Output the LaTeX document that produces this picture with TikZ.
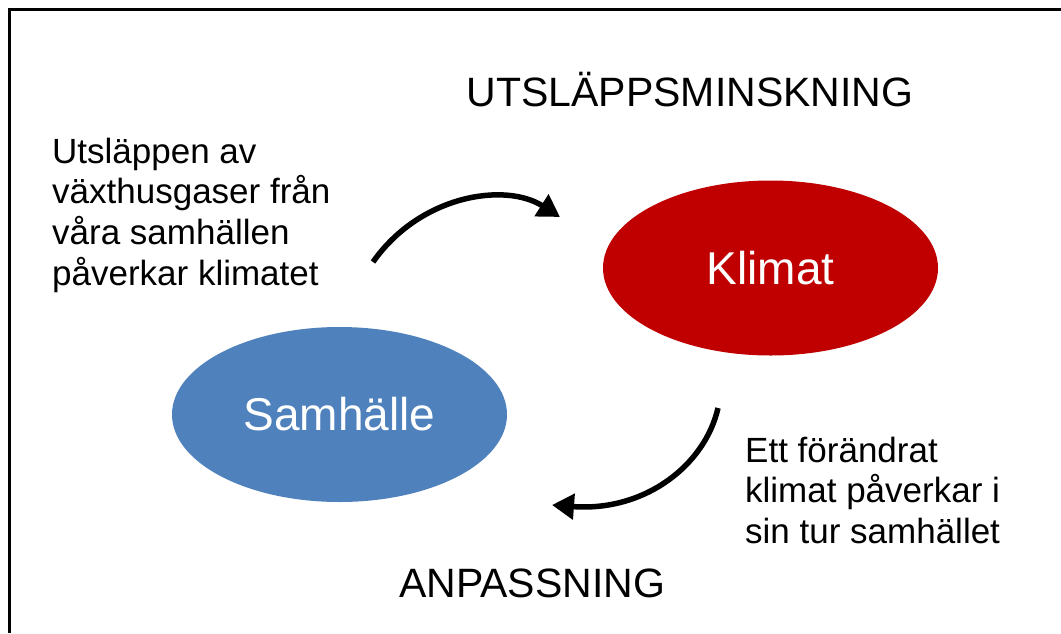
\documentclass[tikz,border=0pt]{standalone}
\usepackage{fontspec}
\setmainfont{Liberation Sans}
\usetikzlibrary{shapes.geometric,arrows.meta}
\definecolor{klimred}{HTML}{C00000}
\definecolor{samblue}{HTML}{4F81BD}
\begin{document}
\begin{tikzpicture}[x=1pt,y=-1pt,
  blob/.style={ellipse,minimum width=335pt,minimum height=175pt,inner sep=0pt,text=white,font=\fontsize{46}{50}\selectfont},
  caption/.style={inner sep=0pt,font=\fontsize{35}{40.7}\selectfont,anchor=base west},
  heading/.style={inner sep=0pt,font=\fontsize{41}{45}\selectfont,anchor=base},
  flow/.style={line width=5.5pt,-{Triangle[length=22pt,width=25pt]}}]
\useasboundingbox (0,0) rectangle (1061,633);
\fill[white] (0,0) rectangle (1061,633);
\draw[line width=3pt] (9,633) -- (9,9) -- (1061,9);
\node[blob,fill=klimred] (klimat) at (770.5,268) {Klimat};
\node[blob,fill=samblue] (samhalle) at (339.5,414.5) {Samhälle};
\node[heading] (utsl) at (690,106.7) {UTSLÄPPSMINSKNING};
\node[heading] (anp) at (532,597) {ANPASSNING};
\node[caption] (leftcap) at (52,163) {\begin{tabular}[t]{@{}l@{}}Utsläppen av\\växthusgaser från\\våra samhällen\\påverkar klimatet\end{tabular}};
\node[caption] (rightcap) at (745,462) {\begin{tabular}[t]{@{}l@{}}Ett förändrat\\klimat påverkar i\\sin tur samhället\end{tabular}};
\coordinate (a1s) at (373,262);
\coordinate (a1e) at (560,217);
\draw[flow] (a1s) .. controls (420,195) and (505,182) .. (a1e);
\coordinate (a2s) at (718,408);
\coordinate (a2e) at (552,505);
\draw[flow] (a2s) .. controls (705,465) and (645,512) .. (a2e);
\end{tikzpicture}
\end{document}
